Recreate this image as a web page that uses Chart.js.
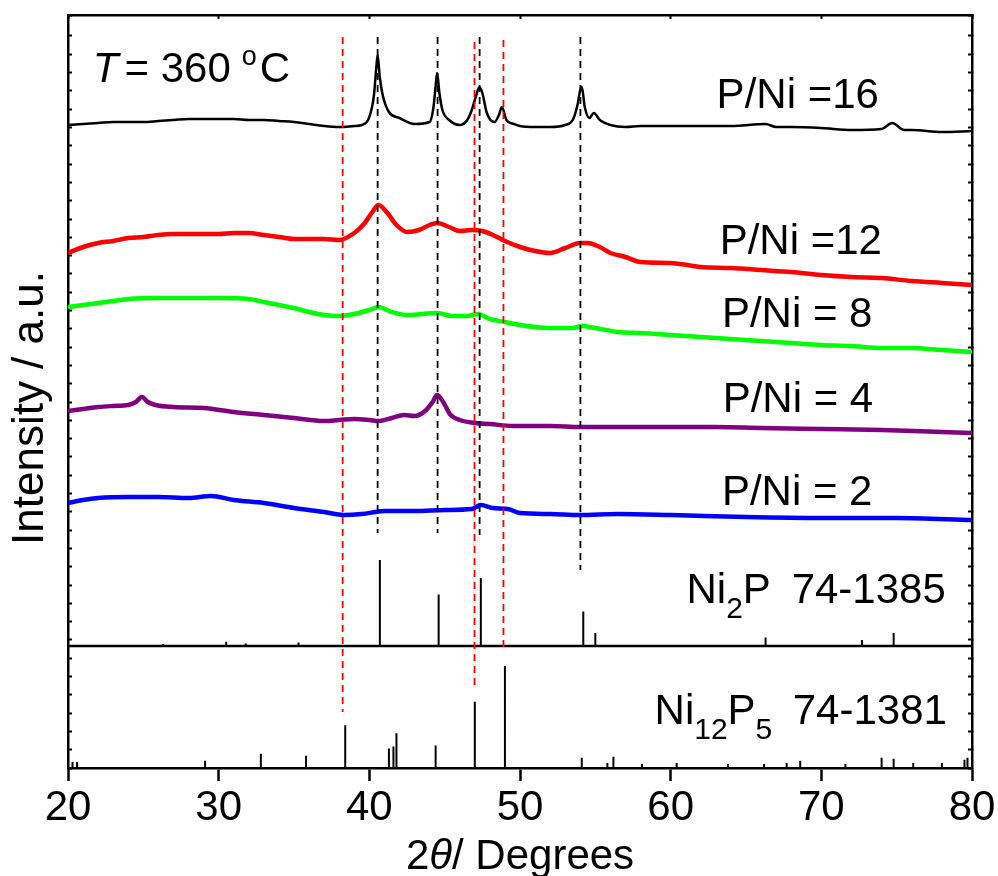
<!DOCTYPE html>
<html lang="en">
<head>
<meta charset="UTF-8">
<title>XRD patterns, T = 360 °C</title>
<script src="https://cdn.jsdelivr.net/npm/chart.js"></script>
<style>
    body { margin: 0; background: #fff; }
    #wrap { width: 998px; height: 876px; }
</style>
</head>
<body>
<div id="wrap"><canvas id="xrd"></canvas></div>
<script>
// Stacked XRD patterns (2theta in degrees, intensity in a.u. incl. stacking offset)
const theta16 = [20, 21, 22, 23, 24, 25, 26, 27, 28, 29, 30, 31, 32, 33, 34, 35, 36, 37, 38, 39,
    39.5, 40, 40.3, 40.45, 40.55, 40.7, 40.9, 41.3, 42, 43, 44, 44.25, 44.4, 44.5, 44.65, 44.85, 45.3, 46, 46.5, 46.8,
    47.1, 47.3, 47.5, 47.8, 48.3, 48.6, 48.8, 49.1, 49.6, 50, 51, 52, 53, 53.5, 53.8, 54.0, 54.1, 54.3, 54.6, 54.9,
    55.3, 56, 57, 58, 60, 62, 64, 66.3, 67, 68, 70, 72, 74, 74.7, 75.5, 76, 78, 80];
const counts16 = [643, 644, 645, 646, 646, 646, 647, 648, 649, 649, 649, 649, 648, 648, 647, 646, 644, 642, 641, 642,
    643, 651, 672, 698, 713, 690, 672, 656, 650, 644, 646, 660, 682, 695, 675, 658, 648, 643, 648, 658,
    673, 681, 675, 655, 646, 653, 661, 648, 644, 642, 641, 641, 643, 648, 662, 678, 681, 661, 650, 655,
    648, 643, 641, 642, 642, 642, 642, 644, 641, 641, 640, 638, 639, 645, 638, 638, 636, 637];

const theta12 = [20, 21, 22, 23, 24, 25, 26, 27, 28, 29, 30, 31, 32, 33, 34, 35, 36, 37, 38, 39,
    39.7, 40.2, 40.6, 41.2, 41.8, 42.5, 43.3, 44, 44.5, 45.3, 46, 46.8, 47.5, 48.2, 49, 50, 51, 52, 53, 54,
    54.5, 55.3, 56, 57, 58, 60, 62, 64, 66, 68, 70, 72, 74, 76, 78, 80];
const counts12 = [515, 521, 525, 527, 530, 531, 533, 534, 534, 534, 534, 535, 535, 533, 531, 529, 529, 529, 528, 535,
    545, 556, 563, 555, 543, 536, 538, 543, 545, 541, 537, 538, 537, 533, 527, 521, 517, 515, 520, 525,
    525, 521, 515, 511, 506, 505, 501, 500, 498, 496, 493, 491, 490, 487, 485, 483];

const theta8 = [20, 21, 22, 23, 24, 26, 28, 30, 32, 33, 34, 35, 36, 37, 38, 39, 40, 40.6, 41.5, 42.5,
    43.5, 44.5, 45.5, 46.5, 47.2, 48, 49, 50, 51, 52, 53.5, 54.1, 55, 56.5, 58, 60, 62, 64, 66, 68,
    70, 72, 74, 76, 78, 80];
const counts8 = [461, 463, 465, 467, 469, 470, 470, 470, 469, 466, 463, 460, 456, 453, 452, 454, 458, 461, 456, 453,
    454, 455, 452, 452, 454, 449, 446, 443, 441, 440, 440, 442, 440, 436, 435, 433, 431, 429, 427, 425,
    423, 422, 420, 420, 418, 416];

const theta4 = [20, 21, 22, 23, 24, 24.5, 24.9, 25.3, 25.8, 27, 29, 31, 33, 35, 37, 38, 39, 40, 40.6, 41.5,
    42.3, 43, 43.7, 44.2, 44.5, 44.9, 45.4, 46, 47, 48, 49.5, 52, 54, 56.5, 60, 63, 66, 70, 74, 78, 80];
const counts4 = [357, 359, 361, 362, 363, 366, 371, 366, 363, 361, 360, 356, 353, 350, 347, 348, 349, 348, 347, 350,
    353, 352, 357, 366, 373, 366, 353, 348, 345, 344, 342, 342, 341, 341, 341, 341, 340, 339, 338, 336, 335];

const theta2 = [20, 21, 22, 24, 26, 28, 29.5, 31, 33, 35, 37, 38.3, 39.5, 41, 43, 45, 46.8, 47.4, 48.2, 49.2,
    50, 52, 54, 56.5, 60, 65, 70, 75, 80];
const counts2 = [265, 268, 270, 271, 271, 270, 272, 268, 265, 260, 256, 253, 254, 257, 257, 258, 259, 263, 260, 259,
    255, 254, 253, 254, 253, 251, 250, 250, 248];

// reference cards, relative intensity in %
const ni2pTheta = [26.3, 30.5, 31.8, 35.3, 40.7, 44.6, 47.4, 54.2, 55.0, 66.3, 72.7, 74.8];
const ni2pRel = [2, 5, 3, 4, 100, 60, 79, 40, 15, 10, 7, 15];
const ni2pBase = 122, ni2pScale = 0.86;

const ni12p5Theta = [20.3, 20.6, 29.1, 32.8, 35.8, 38.4, 41.3, 41.6, 41.8, 44.4, 47.0, 49.0, 54.1, 55.8,
    56.2, 58.1, 60.4, 63.8, 66.2, 67.7, 68.6, 71.6, 74.0, 74.8, 76.1, 78.0, 79.5, 79.7];
const ni12p5Rel = [6, 6, 7, 14, 12, 42, 19, 21, 34, 22, 65, 100, 10, 5,
    11, 4, 5, 4, 4, 5, 7, 4, 10, 9, 5, 5, 8, 10];
const ni12p5Base = 0, ni12p5Scale = 1.02;

// guide lines through the main reflections
const ni2pMarks = [40.55, 44.53, 47.32, 54.01];
const ni2pMarkTop = [731, 731, 731, 731];
const ni2pMarkBottom = [235, 235, 233, 198];
const ni12p5Marks = [38.23, 46.98, 48.9];
const ni12p5MarkTop = [731, 726, 728];
const ni12p5MarkBottom = [56, 83, 118];

const seriesLabels = ['P/Ni =16', 'P/Ni =12', 'P/Ni = 8', 'P/Ni = 4', 'P/Ni = 2'];
const seriesLabelTheta = [63.05, 63.25, 63.4, 63.45, 63.4];
const seriesLabelLevel = [660, 514, 441, 356, 263];

const FONT = '"Liberation Sans", Arial, sans-serif';

function pairs(xs, ys) {
    return xs.map((x, i) => ({ x: x, y: ys[i] }));
}

function sticks(xs, rel, base, scale) {
    const pts = [];
    xs.forEach((x, i) => {
        pts.push({ x: x, y: base }, { x: x, y: base + rel[i] * scale }, { x: x, y: null });
    });
    return pts;
}

function guides(xs, top, bottom) {
    const pts = [];
    xs.forEach((x, i) => {
        pts.push({ x: x, y: top[i] }, { x: x, y: bottom[i] }, { x: x, y: null });
    });
    return pts;
}

function curve(data, color, width) {
    return {
        data: data, borderColor: color, borderWidth: width, showLine: true,
        pointRadius: 0, cubicInterpolationMode: 'monotone', order: 2
    };
}

function plain(data, color, width, dash, order) {
    return {
        data: data, borderColor: color, borderWidth: width, showLine: true,
        pointRadius: 0, tension: 0, spanGaps: false, borderDash: dash || [], order: order
    };
}

// draws a run of text pieces left to right, returns the end x
function drawParts(ctx, x, y, parts, measureOnly) {
    parts.forEach(p => {
        ctx.font = (p.italic ? 'italic ' : '') + (p.size || 42) + 'px ' + FONT;
        x += p.gap || 0;
        if (!measureOnly) ctx.fillText(p.t, x, y + (p.dy || 0));
        x += ctx.measureText(p.t).width;
    });
    return x;
}

const textPlugin = {
    id: 'xrdText',
    afterDraw(chart) {
        const ctx = chart.ctx;
        const xs = chart.scales.x, ys = chart.scales.y, area = chart.chartArea;
        ctx.save();
        ctx.fillStyle = '#000';
        ctx.textAlign = 'left';
        ctx.textBaseline = 'alphabetic';

        drawParts(ctx, xs.getPixelForValue(21.65), ys.getPixelForValue(686), [
            { t: 'T', italic: true },
            { t: '= 360', gap: 6 },
            { t: 'o', size: 27, dy: -17, gap: 11 },
            { t: 'C', gap: 3 }
        ]);

        seriesLabels.forEach((s, i) => {
            ctx.font = '42px ' + FONT;
            ctx.fillText(s, xs.getPixelForValue(seriesLabelTheta[i]), ys.getPixelForValue(seriesLabelLevel[i]));
        });

        const y2p = ys.getPixelForValue(165);
        drawParts(ctx, xs.getPixelForValue(61.05), y2p, [
            { t: 'Ni' }, { t: '2', size: 30, dy: 15 }, { t: 'P' }
        ]);
        ctx.font = '42px ' + FONT;
        ctx.fillText('74-1385', xs.getPixelForValue(68.03), y2p);

        const y125 = ys.getPixelForValue(44);
        drawParts(ctx, xs.getPixelForValue(58.93), y125, [
            { t: 'Ni' }, { t: '12', size: 30, dy: 15 }, { t: 'P' }, { t: '5', size: 30, dy: 15 }
        ]);
        ctx.font = '42px ' + FONT;
        ctx.fillText('74-1381', xs.getPixelForValue(68.1), y125);

        // x axis title
        const xTitle = [{ t: '2' }, { t: 'θ', italic: true }, { t: '/ Degrees' }];
        const w = drawParts(ctx, 0, 0, xTitle, true);
        drawParts(ctx, (area.left + area.right) / 2 - w / 2, area.bottom + 101, xTitle);

        // y axis title
        ctx.translate(area.left - 37, area.top + 393);
        ctx.rotate(-Math.PI / 2);
        ctx.textAlign = 'center';
        ctx.textBaseline = 'middle';
        ctx.font = '44px ' + FONT;
        ctx.fillText('Intensity / a.u.', 0, 0);
        ctx.restore();
    }
};

const frame = { display: true, color: '#000', width: 2.5 };
const minorTicks = { drawOnChartArea: false, drawTicks: true, tickLength: -4, tickWidth: 2, color: '#000' };

new Chart(document.getElementById('xrd'), {
    type: 'scatter',
    data: {
        datasets: [
            plain(guides(ni2pMarks, ni2pMarkTop, ni2pMarkBottom), '#000', 1.8, [7, 5], 0),
            plain(guides(ni12p5Marks, ni12p5MarkTop, ni12p5MarkBottom), '#ff0000', 1.8, [7, 5], 0),
            curve(pairs(theta16, counts16), '#000000', 2.5),
            curve(pairs(theta12, counts12), '#ff0000', 4.5),
            curve(pairs(theta8, counts8), '#00ff00', 4.5),
            curve(pairs(theta4, counts4), '#800080', 4.5),
            curve(pairs(theta2, counts2), '#0000ff', 4.5),
            plain([{ x: 20, y: ni2pBase }, { x: 80, y: ni2pBase }], '#000', 2.5, [], 1),
            plain(sticks(ni2pTheta, ni2pRel, ni2pBase, ni2pScale), '#000', 2, [], 1),
            plain(sticks(ni12p5Theta, ni12p5Rel, ni12p5Base, ni12p5Scale), '#000', 2, [], 1)
        ]
    },
    options: {
        responsive: true,
        maintainAspectRatio: false,
        animation: false,
        layout: { padding: 0 },
        plugins: { legend: { display: false }, tooltip: { enabled: false } },
        scales: {
            x: {
                type: 'linear', position: 'bottom', min: 20, max: 80,
                border: frame,
                grid: { drawOnChartArea: false, drawTicks: true, tickLength: 13, tickWidth: 2.5, color: '#000' },
                ticks: { stepSize: 10, color: '#000', font: { size: 42, family: FONT }, padding: 2, maxRotation: 0 },
                afterFit(scale) { scale.height = 108; }
            },
            x2: {
                type: 'linear', position: 'top', min: 20, max: 80,
                border: frame,
                grid: minorTicks,
                ticks: { display: false, stepSize: 10 },
                afterFit(scale) { scale.height = 15; }
            },
            y: {
                type: 'linear', position: 'left', min: 0, max: 753,
                border: frame,
                grid: minorTicks,
                ticks: { display: false, stepSize: 18.3 },
                afterFit(scale) { scale.width = 68; }
            },
            y2: {
                type: 'linear', position: 'right', min: 0, max: 753,
                border: frame,
                grid: minorTicks,
                ticks: { display: false, stepSize: 18.3 },
                afterFit(scale) { scale.width = 26; }
            }
        }
    },
    plugins: [textPlugin]
});
</script>
</body>
</html>
